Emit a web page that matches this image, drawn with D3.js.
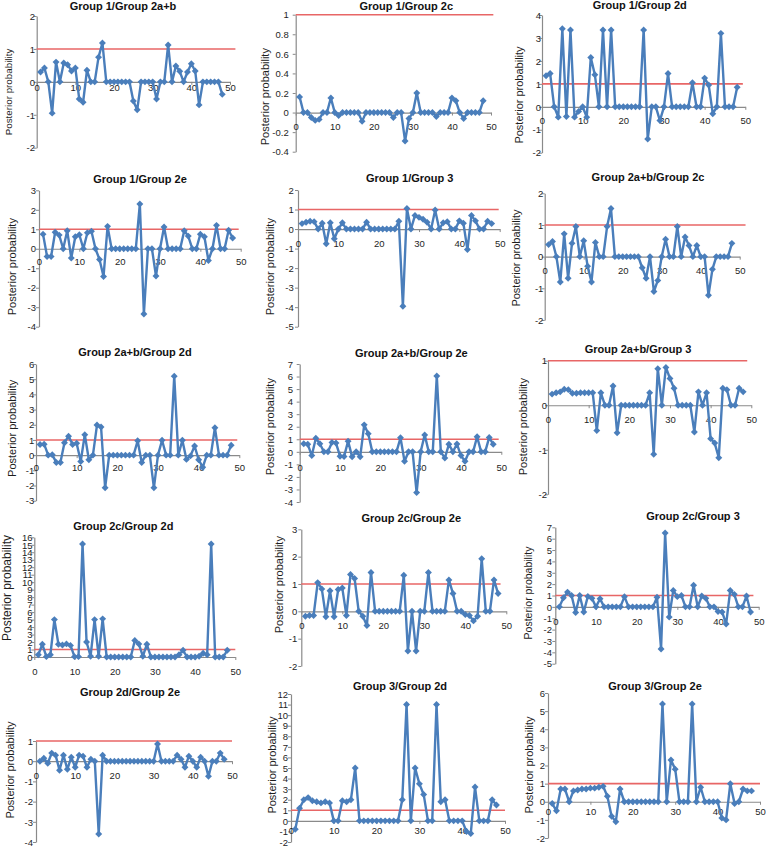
<!DOCTYPE html>
<html><head><meta charset="utf-8">
<script src="https://cdn.jsdelivr.net/npm/d3@7"></script>
<style>html,body{margin:0;padding:0;background:#fff;} svg{display:block;}</style>
</head><body>
<script>
// ---------- DATA ----------
const sampleIndex = [1,2,3,4,5,6,7,8,9,10,11,12,13,14,15,16,17,18,19,20,21,22,23,24,25,26,27,28,29,30,31,32,33,34,35,36,37,38,39,40,41,42,43,44,45,46,47,48];
const xTickLabels = [0,10,20,30,40,50];
const threshold = 1;
const yAxisTitle = "Posterior probability";

const titles = ["Group 1/Group 2a+b","Group 1/Group 2c","Group 1/Group 2d",
  "Group 1/Group 2e","Group 1/Group 3","Group 2a+b/Group 2c",
  "Group 2a+b/Group 2d","Group 2a+b/Group 2e","Group 2a+b/Group 3",
  "Group 2c/Group 2d","Group 2c/Group 2e","Group 2c/Group 3",
  "Group 2d/Group 2e","Group 3/Group 2d","Group 3/Group 2e"];

const g1_g2ab = [0.3,0.42,0,-0.95,0.6,0,0.57,0.52,0.33,0.42,-0.52,-0.62,0.35,0,0,0.75,1.18,0,0,0,0,0,0,0,-0.58,-0.85,0,0,0,0,-0.52,0,0,1.12,0,0.48,0.32,0,0.3,0.55,0.33,-0.7,0,0,0,0,0,-0.38];
const g1_g2c = [0.16,0,0,-0.05,-0.08,-0.07,0,0,0.15,0,-0.03,0,0,0,0,0,-0.09,0,0,0,0,0,0,0,-0.05,0,0,-0.29,-0.06,0,0.2,0,0,0,0,-0.04,0,0,0,0.15,0.12,0,-0.06,0,0,0,0,0.12];
const g1_g2d = [1.35,1.45,0,-0.45,3.4,-0.42,3.35,-0.45,-0.2,0,-0.45,2.15,1.4,0,3.35,0,3.35,0,0,0,0,0,0,0,3.35,-1.4,0,0,-0.6,0,1.45,0,0,0,0,0,1.05,0,0,1.25,0.95,-0.3,0,3.2,0,0,0,0.85];
const g1_g2e = [0.75,-0.4,-0.4,0.85,0.7,0,0.92,-0.48,0.62,0.72,0,0.82,0.9,0,-0.55,-1.42,1.15,0,0,0,0,0,0,0,2.3,-3.35,0,0,-1.4,0,1.12,0,0,0,0,0.92,0.65,0,0,0.75,0.62,-0.6,0,1.2,0,0,0.95,0.55];
const g1_g3 = [0.28,0.35,0.4,0.38,0,0.3,-0.75,0.32,-0.5,0,0.32,0,0,0,0,0,0.35,0,0,0,0,0,0,0,0.4,-3.95,1.05,0,0.7,0.6,0.5,0.35,0,0.98,0,0.32,0.38,0,0,0.42,0.3,-1.05,0.7,0.42,0,0,0.4,0.28];
const g2ab_g2c = [0.38,0.48,0,-0.8,0.72,-0.68,0.42,0.95,0,0.5,-0.3,-0.8,0.45,0,0,0.95,1.52,0,0,0,0,0,0,0,-0.35,-0.68,0,-1.1,-0.75,0,0.55,0,0,0.95,0,0.62,0.35,0,0.35,0,0,-1.22,-0.4,0,0,0,0,0.42];
const g2ab_g2d = [0.7,0.72,0,0.02,-0.48,-0.48,0.82,1.25,0.7,0.78,-0.42,1.35,-0.3,0,1.98,1.85,-2.15,0,0,0,0,0,0,0,0.95,-0.48,0,0,-2.15,0,0.98,0,0,5.2,0,0.98,-0.28,-0.05,0.6,-0.3,-0.8,0,0,1.8,0,0,0,0.65];
const g2ab_g2e = [0.65,0.6,-0.3,1.08,0.65,0,0,0.75,0.7,-0.35,-0.38,0.85,-0.4,0,-0.4,2.15,1.45,0,0,0,0,0,0,0,1.12,-0.75,0,0,-3.25,0,1.35,0,0,6.05,0,-0.5,0.6,0,0.62,-0.3,-0.75,0,0,1.2,0,0,1.15,0.6];
const g2ab_g3 = [0.25,0.28,0.3,0.36,0.35,0.27,0.27,0.28,0.28,0.28,0.28,-0.57,0.28,0,0,0.43,-0.62,0,0,0,0,0,0,0,0.28,-1.1,0.82,0,0.85,0.6,0.38,0,0,0,0,-0.6,0.3,0,0.28,-0.75,-0.85,-1.18,0.38,0.35,0,0,0.38,0.3];
const g2c_g2d = [0.3,1.7,0.05,0.3,5.0,1.7,1.6,1.75,1.55,0.05,0.05,15.1,2.0,0.1,5.0,0.1,5.1,0,0,0,0,0,0,0,2.2,1.75,0.1,1.7,0,0,0,0,0,0,0,0.3,0.9,0,0,0,0.1,0.5,0.3,15.1,0,0,0,0.9];
const g2c_g2e = [-0.18,-0.15,-0.15,1.05,0.82,-0.2,0.75,-0.2,0.8,0.85,-0.15,1.35,1.2,0,-0.18,-0.52,1.42,0,0,0,0,0,0,0,1.32,-1.45,0,-1.45,0,0,1.42,0,0,0,0,1.15,0.65,0,0,-0.12,-0.15,-0.35,-0.18,1.92,0,0,1.15,0.65];
const g2c_g3 = [0,0.8,1.3,1.0,-0.5,1.0,-0.45,0.92,0.75,0,0.72,0,0,0,0,0,0.9,0,0,0,0,0,0,0,0.85,-3.7,6.5,-0.9,1.45,0.9,1.0,0,0,1.9,0,0.95,0.75,0,0,-0.4,-0.45,-1.5,1.45,1.1,0,0,0.95,-0.45];
const g2d_g2e = [0,0.15,-0.1,0.4,0.3,-0.45,0.3,-0.4,0.2,-0.3,0.3,0.25,-0.3,0.1,0,-3.6,0.3,0,0,0,0,0,0,0,0,0,0,0,0,0,0.85,0,0,0,0,0.3,0.1,-0.3,0.25,0,-0.3,0.2,0,-0.75,0,0,0.4,0.1];
const g3_g2d = [-0.8,1.2,2.0,2.2,1.9,1.8,1.7,1.8,1.7,0,0,1.9,1.8,2.0,5.0,0,0,0,0,0,0,0,0,0,0,2.0,11.0,0,5.0,3.5,2.5,0,0,11.0,1.8,2.0,0,0,0,0,-1.0,-1.2,3.2,0,0,0,2.0,1.5];
const g3_g2e = [-0.1,-0.5,0.7,0.7,0,0.6,0.65,0.7,0.7,0.75,0.75,0.8,0.85,0.3,-0.8,-1.1,0.7,0,0,0,0,0,0,0,0,0,5.4,0,2.3,1.8,0,0,0,5.4,0,0.8,0,0,0,0,-0.9,-1.0,1.0,-0.1,0,0.7,0.6,0.6];

const yTicks1 = [2,1,0,-1,-2];
const yTicks2 = [1,0.8,0.6,0.4,0.2,0,-0.2,-0.4];
const yTicks3 = [4,3,2,1,0,-1,-2];
const yTicks4 = [3,2,1,0,-1,-2,-3,-4];
const yTicks5 = [2,1,0,-1,-2,-3,-4,-5];
const yTicks6 = [2,1,0,-1,-2];
const yTicks7 = [6,5,4,3,2,1,0,-1,-2,-3];
const yTicks8 = [7,6,5,4,3,2,1,0,-1,-2,-3,-4];
const yTicks9 = [1,0,-1,-2];
const yTicks10 = [16,15,14,13,12,11,10,9,8,7,6,5,4,3,2,1,0];
const yTicks11 = [3,2,1,0,-1,-2];
const yTicks12 = [7,6,5,4,3,2,1,0,-1,-2,-3,-4,-5];
const yTicks13 = [1,0,-1,-2,-3,-4];
const yTicks14 = [12,11,10,9,8,7,6,5,4,3,2,1,0,-1,-2];
const yTicks15 = [6,5,4,3,2,1,0,-1,-2];

const seriesList = [g1_g2ab,g1_g2c,g1_g2d,g1_g2e,g1_g3,g2ab_g2c,g2ab_g2d,g2ab_g2e,g2ab_g3,g2c_g2d,g2c_g2e,g2c_g3,g2d_g2e,g3_g2d,g3_g2e];
const tickList = [yTicks1,yTicks2,yTicks3,yTicks4,yTicks5,yTicks6,yTicks7,yTicks8,yTicks9,yTicks10,yTicks11,yTicks12,yTicks13,yTicks14,yTicks15];

// ---------- LAYOUT (pixel geometry of each small panel) ----------
const layout = [
 {ax:36.7, x50:230,   yTop:16,    yBot:147.7, tx:123,   ty:10,    lx:8.3,   ly:92,    ls:9.8, gap:1.7, xdy:6,    redEnd:51.4},
 {ax:295.7,x50:491,   yTop:14.7,  yBot:151.7, tx:406.3, ty:10,    lx:264.7, ly:96.7,  ls:11,  gap:7,   xdy:14,   redEnd:50.6},
 {ax:542,  x50:745.3, yTop:15,    yBot:152.7, tx:639.7, ty:9,     lx:519.5, ly:95,    ls:11,  gap:1,   xdy:14,   redEnd:49.4},
 {ax:39,   x50:240.7, yTop:190.3, yBot:326.7, tx:140,   ty:183,   lx:12.3,  ly:266.7, ls:11,  gap:3,   xdy:13.3, redEnd:49.5},
 {ax:298,  x50:499.7, yTop:190,   yBot:326.7, tx:409.7, ty:182,   lx:270.3, ly:266.7, ls:11,  gap:4.3, xdy:14.3, redEnd:49.75},
 {ax:544.7,x50:739.7, yTop:193.3, yBot:320,   tx:648,   ty:180.5, lx:516.5, ly:258,   ls:11,  gap:1.3, xdy:14,   redEnd:51.5},
 {ax:36,   x50:239.3, yTop:364,   yBot:500.7, tx:135,   ty:355.5, lx:11.7,  ly:428.3, ls:11,  gap:1.7, xdy:13,   redEnd:49.5},
 {ax:299.7,x50:501.3, yTop:364,   yBot:502,   tx:411.3, ty:357,   lx:269.7, ly:426.7, ls:11,  gap:6.7, xdy:15.7, redEnd:49.35},
 {ax:548,  x50:751.3, yTop:360.7, yBot:494.3, tx:638,   ty:353,   lx:523,   ly:426.7, ls:11,  gap:1,   xdy:14,   redEnd:49},
 {ax:34.3, x50:235.3, yTop:537.3, yBot:657,   tx:123.3, ty:530,   lx:6.7,   ly:588,   ls:12,  gap:1.7, xdy:15,   redEnd:50},
 {ax:301.3,x50:506.3, yTop:529.3, yBot:666,   tx:411.3, ty:522,   lx:278.7, ly:584.7, ls:11,  gap:4,   xdy:14.7, redEnd:48.6},
 {ax:555.3,x50:758.7, yTop:527.3, yBot:663.7, tx:693,   ty:520,   lx:528,   ly:593,   ls:10.5,gap:3.3, xdy:14.7, redEnd:48.7},
 {ax:36,   x50:232,   yTop:741,   yBot:842,   tx:130,   ty:696,   lx:10,    ly:770,   ls:11,  gap:3,   xdy:14,   redEnd:50},
 {ax:291,  x50:505,   yTop:694,   yBot:842,   tx:400,   ty:690,   lx:272,   ly:765,   ls:11,  gap:3,   xdy:10,   redEnd:50},
 {ax:548,  x50:760,   yTop:693,   yBot:838,   tx:655,   ty:690,   lx:529,   ly:765,   ls:11,  gap:3,   xdy:10,   redEnd:50}
];

// ---------- STYLE ----------
const BLUE = "#4a7ebb", RED = "#e86666", AXIS = "#8a8a8a", TXT = "#1e1e1e";
const FONT = "'Liberation Sans', Arial, Helvetica, sans-serif";

const diamond = {
  draw(ctx, size) {
    const r = Math.sqrt(size / 2);
    ctx.moveTo(0, -r); ctx.lineTo(r, 0); ctx.lineTo(0, r); ctx.lineTo(-r, 0); ctx.closePath();
  }
};

const svg = d3.select("body").append("svg")
  .attr("width", 778).attr("height", 849)
  .style("font-family", FONT);
svg.append("rect").attr("width",778).attr("height",849).attr("fill","#fff");

seriesList.forEach((values, i) => {
  const L = layout[i];
  const ticks = tickList[i];
  const x = d3.scaleLinear().domain([0, 50]).range([L.ax, L.x50]);
  const y = d3.scaleLinear().domain([d3.min(ticks), d3.max(ticks)]).range([L.yBot, L.yTop]);
  const g = svg.append("g");

  // y axis
  const ya = g.append("g").attr("transform", `translate(${L.ax},0)`)
    .call(d3.axisLeft(y).tickValues(ticks).tickSize(3).tickSizeOuter(0).tickFormat(d => String(d)));
  ya.selectAll("text").attr("x", -L.gap).attr("dy", "0.34em")
    .attr("fill", TXT).style("font-size", "9.5px").style("font-family", FONT);

  // x axis at y = 0
  const xa = g.append("g").attr("transform", `translate(0,${y(0)})`)
    .call(d3.axisBottom(x).tickValues(xTickLabels).tickSize(3).tickSizeOuter(0));
  xa.selectAll("text").attr("y", L.xdy).attr("dy", "0.35em")
    .attr("fill", TXT).style("font-size", "9.5px").style("font-family", FONT);

  g.selectAll(".domain").attr("stroke", AXIS).attr("stroke-width", 1.2);
  g.selectAll(".tick line").attr("stroke", AXIS).attr("stroke-width", 1);

  // threshold line
  g.append("line")
    .attr("x1", x(0)).attr("x2", x(L.redEnd))
    .attr("y1", y(threshold)).attr("y2", y(threshold))
    .attr("stroke", RED).attr("stroke-width", 1.6);

  // series line
  const line = d3.line().x((d, j) => x(sampleIndex[j])).y(d => y(d));
  g.append("path").datum(values)
    .attr("d", line).attr("fill", "none")
    .attr("stroke", BLUE).attr("stroke-width", 2.4).attr("stroke-linejoin", "round");

  // markers
  g.selectAll(".mk").data(values).enter().append("path")
    .attr("transform", (d, j) => `translate(${x(sampleIndex[j])},${y(d)})`)
    .attr("d", d3.symbol(diamond, 24))
    .attr("fill", BLUE);

  // title
  g.append("text").attr("x", L.tx).attr("y", L.ty)
    .attr("text-anchor", "middle").attr("font-weight", "bold")
    .style("font-size", "11px").attr("fill", "#111").text(titles[i]);

  // y-axis title
  g.append("text")
    .attr("transform", `translate(${L.lx},${L.ly}) rotate(-90)`)
    .attr("text-anchor", "middle").attr("dy", "0.35em")
    .style("font-size", L.ls + "px").attr("fill", TXT).text(yAxisTitle);
});
</script>
</body></html>
